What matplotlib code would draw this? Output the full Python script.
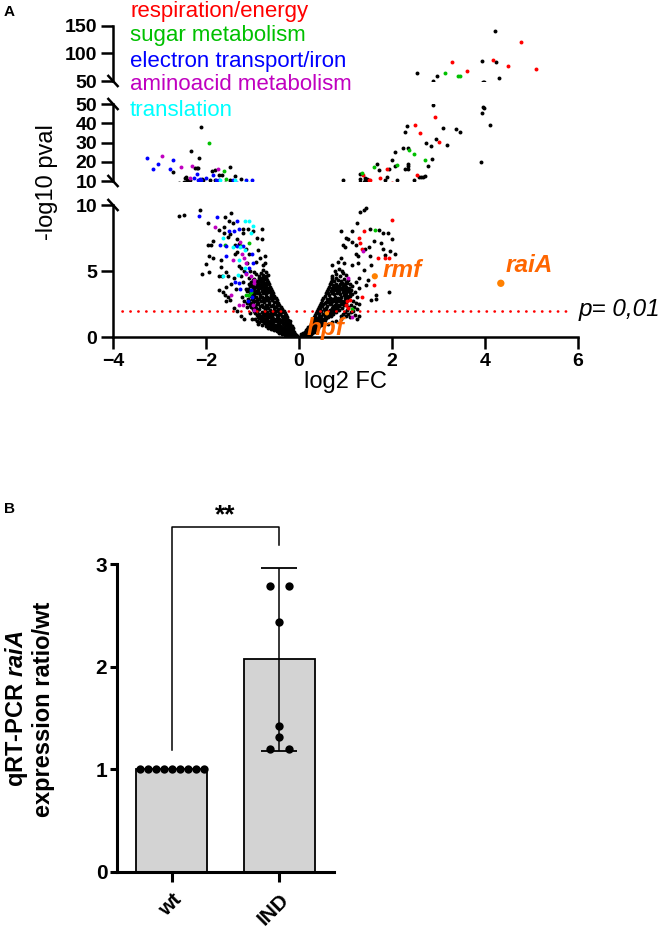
import matplotlib
matplotlib.use("Agg")
import matplotlib.pyplot as plt
from matplotlib.lines import Line2D
import numpy as np

plt.rcParams['font.family'] = ['Liberation Sans', 'DejaVu Sans']
plt.rcParams['mathtext.fontset'] = 'custom'
plt.rcParams['mathtext.it'] = 'Liberation Sans:italic:bold'
plt.rcParams['mathtext.rm'] = 'Liberation Sans:bold'

# ---------------- panel A : volcano (log2 FC, -log10 pval) ----------------
categories = ["respiration/energy", "sugar metabolism", "electron transport/iron",
              "aminoacid metabolism", "translation"]
cat_colors = ["#FF0000", "#00C000", "#0000FF", "#C000C0", "#00FFFF"]

# black = not annotated
black_pts = [
    # left dense lobe
    (-0.02, 0.02), (-0.05, 0.05), (-0.08, 0.08), (-0.11, 0.06), (-0.14, 0.12), (-0.17, 0.09),
    (-0.20, 0.15), (-0.23, 0.19), (-0.26, 0.14), (-0.29, 0.22), (-0.31, 0.27), (-0.34, 0.30),
    (-0.06, 0.14), (-0.12, 0.20), (-0.18, 0.25), (-0.09, 0.22), (-0.15, 0.31), (-0.24, 0.30),
    (-0.04, 0.10), (-0.10, 0.15), (-0.16, 0.20), (-0.22, 0.28), (-0.27, 0.35), (-0.20, 0.38),
    (-0.32, 0.42), (-0.26, 0.46), (-0.30, 0.15), (-0.24, 0.08), (-0.18, 0.04), (-0.36, 0.25),
    (-0.38, 0.36), (-0.42, 0.41), (-0.45, 0.47), (-0.48, 0.52), (-0.52, 0.58), (-0.55, 0.63),
    (-0.58, 0.70), (-0.61, 0.75), (-0.10, 0.35), (-0.13, 0.42), (-0.16, 0.48), (-0.19, 0.55),
    (-0.22, 0.44), (-0.25, 0.50), (-0.28, 0.38), (-0.31, 0.58), (-0.34, 0.47), (-0.37, 0.62),
    (-0.40, 0.55), (-0.43, 0.70), (-0.46, 0.64), (-0.49, 0.77), (-0.26, 0.71), (-0.21, 0.66),
    (-0.33, 0.78), (-0.14, 0.60), (-0.18, 0.76), (-0.12, 0.70), (-0.52, 0.72), (-0.39, 0.74),
    (-0.42, 0.32), (-0.48, 0.42), (-0.54, 0.50), (-0.60, 0.58), (-0.66, 0.68), (-0.72, 0.80),
    (-0.30, 0.50), (-0.36, 0.68), (-0.42, 0.60), (-0.50, 0.66), (-0.56, 0.82), (-0.60, 0.92),
    (-0.48, 0.86), (-0.44, 1.02), (-0.36, 1.20), (-0.30, 1.45), (-0.66, 1.02), (-0.70, 1.15),
    (-0.80, 1.40), (-0.60, 1.20), (-0.42, 1.28), (-0.56, 1.32), (-0.68, 1.45), (-0.27, 1.00),
    (-0.24, 0.80), (-0.20, 1.20), (-0.80, 0.90), (-0.88, 0.95), (-0.85, 1.10), (-0.90, 1.25),
    (-0.95, 1.40),
    (-0.64, 0.82), (-0.67, 0.90), (-0.70, 0.97), (-0.73, 1.05), (-0.76, 1.12), (-0.79, 1.20),
    (-0.82, 1.30), (-0.85, 1.42), (-0.16, 0.86), (-0.19, 0.95), (-0.22, 1.04), (-0.25, 1.13),
    (-0.28, 1.22), (-0.31, 1.32), (-0.34, 1.42), (-0.28, 0.88), (-0.35, 0.95), (-0.41, 0.86),
    (-0.46, 0.98), (-0.52, 0.90), (-0.57, 0.99), (-0.62, 1.08), (-0.39, 1.10), (-0.45, 1.18),
    (-0.50, 1.25), (-0.55, 1.14), (-0.60, 1.30), (-0.66, 1.22), (-0.71, 1.38), (-0.77, 1.45),
    (-0.43, 1.38), (-0.48, 1.46), (-0.38, 1.28), (-0.53, 1.40), (-0.64, 1.48), (-0.58, 1.52),
    (-0.23, 1.30), (-0.32, 1.08), (-0.74, 1.28),
    (-0.88, 1.55), (-0.91, 1.68), (-0.94, 1.80), (-0.97, 1.95), (-1.00, 2.10), (-1.03, 2.28),
    (-0.26, 1.55), (-0.28, 1.68), (-0.31, 1.82), (-0.33, 1.97), (-0.36, 2.12), (-0.39, 2.28),
    (-0.42, 2.45), (-0.82, 1.62), (-0.76, 1.70), (-0.70, 1.60), (-0.64, 1.72), (-0.58, 1.64),
    (-0.52, 1.76), (-0.46, 1.62), (-0.40, 1.74), (-0.36, 1.60), (-0.44, 1.90), (-0.50, 2.00),
    (-0.56, 1.88), (-0.62, 2.02), (-0.68, 1.92), (-0.74, 2.05), (-0.80, 1.90), (-0.86, 2.10),
    (-0.92, 2.20), (-0.84, 2.35), (-0.78, 2.25), (-0.72, 2.40), (-0.66, 2.22), (-0.60, 2.35),
    (-0.54, 2.25), (-0.48, 2.40), (-0.46, 2.15), (-0.98, 2.42), (-0.90, 2.48), (-0.64, 2.50),
    (-0.57, 1.54), (-0.69, 1.80), (-0.36, 1.88),
    (-0.30, 1.62), (-0.38, 1.98), (-0.42, 2.05), (-0.54, 2.08), (-0.60, 1.80), (-0.66, 1.60),
    (-0.72, 1.72), (-0.78, 1.80), (-0.86, 1.78), (-0.90, 1.95), (-0.96, 2.10), (-0.74, 2.18),
    (-0.80, 2.42), (-0.68, 2.32), (-0.56, 2.45), (-0.50, 2.25), (-0.94, 2.32), (-1.06, 2.45),
    (-0.48, 1.70), (-0.62, 1.58),
    (-1.05, 2.55), (-1.08, 2.70), (-1.10, 2.88), (-0.45, 2.60), (-0.48, 2.78), (-0.50, 2.95),
    (-0.53, 3.12), (-0.56, 3.30), (-0.58, 3.48), (-1.00, 2.65), (-0.94, 2.75), (-0.88, 2.60),
    (-0.82, 2.72), (-0.76, 2.62), (-0.70, 2.78), (-0.64, 2.66), (-0.58, 2.80), (-0.54, 2.62),
    (-0.62, 2.95), (-0.68, 3.05), (-0.74, 2.92), (-0.80, 3.02), (-0.86, 2.90), (-0.92, 3.05),
    (-0.98, 2.95), (-1.04, 3.10), (-0.96, 3.22), (-0.90, 3.35), (-0.84, 3.20), (-0.78, 3.32),
    (-0.72, 3.22), (-0.66, 3.38), (-0.60, 3.20), (-1.06, 3.40), (-1.00, 3.48), (-0.88, 3.50),
    (-0.76, 3.45), (-0.64, 3.55),
    (-0.50, 2.68), (-0.56, 2.92), (-0.60, 3.08), (-0.66, 2.82), (-0.72, 3.00), (-0.78, 2.80),
    (-0.84, 3.05), (-0.90, 2.82), (-0.96, 3.02), (-1.02, 2.85), (-1.08, 3.20), (-0.98, 3.35),
    (-0.92, 3.45), (-0.86, 3.35), (-0.80, 3.48), (-0.74, 3.35), (-0.70, 3.52), (-0.62, 3.40),
    (-1.12, 3.50), (-1.12, 2.60),
    (-0.60, 3.62), (-0.62, 3.80), (-0.64, 3.98), (-0.66, 4.15), (-0.68, 4.30), (-0.70, 4.45),
    (-0.70, 3.70), (-0.76, 3.62), (-0.82, 3.75), (-0.88, 3.66), (-0.94, 3.80), (-1.00, 3.70),
    (-1.06, 3.85), (-0.74, 3.90), (-0.80, 4.02), (-0.86, 3.95), (-0.92, 4.10), (-0.98, 4.00),
    (-1.04, 4.20), (-0.72, 4.12), (-0.78, 4.25), (-0.84, 4.35), (-0.90, 4.28), (-0.96, 4.42),
    (-0.66, 3.70), (-0.72, 3.82), (-0.78, 3.85), (-0.84, 3.85), (-0.90, 3.90), (-0.96, 3.72),
    (-1.02, 3.95), (-1.08, 4.05), (-0.76, 4.10), (-0.82, 4.15), (-0.88, 4.12), (-0.94, 4.25),
    (-1.00, 4.32), (-0.68, 4.00), (-0.74, 4.40), (-0.80, 4.45), (-0.86, 4.50), (-1.10, 3.65),
    (-0.76, 4.50), (-0.72, 4.60), (-0.78, 4.70), (-0.82, 4.85), (-0.70, 4.95), (-0.86, 4.62),
    (-0.92, 4.78), (-0.97, 4.95), (-0.66, 4.72),
    # left, sparse
    (-1.12, 2.30), (-1.18, 2.75), (-1.22, 3.05), (-1.14, 3.60), (-1.20, 4.20), (-1.08, 4.45),
    (-1.25, 4.60), (-1.18, 5.00), (-1.30, 5.40), (-1.05, 5.00), (-1.12, 5.60),
    (-2.59, 9.17), (-2.47, 9.27), (-2.13, 9.65), (-1.46, 9.40), (-1.60, 9.07), (-1.95, 8.60),
    (-1.73, 8.10), (-1.61, 8.30), (-1.62, 7.90), (-1.43, 8.60), (-1.51, 8.80), (-1.21, 8.20),
    (-1.09, 8.20), (-0.98, 8.00), (-0.80, 8.20), (-1.53, 7.60), (-1.48, 7.80), (-1.20, 7.90),
    (-0.90, 7.50), (-0.80, 7.40), (-1.89, 7.00), (-1.95, 7.00), (-1.86, 7.30), (-1.38, 7.00),
    (-1.30, 7.05), (-1.34, 7.40), (-1.13, 6.70), (-1.07, 6.30), (-1.37, 6.30), (-1.33, 6.45),
    (-0.89, 6.60), (-0.84, 6.00), (-0.74, 6.10), (-1.94, 6.10), (-1.86, 6.00), (-1.99, 5.50),
    (-1.67, 5.80), (-1.67, 5.30), (-0.92, 5.70), (-0.78, 5.45), (-0.73, 5.60), (-0.78, 5.05),
    (-2.09, 4.75), (-1.93, 4.90), (-1.73, 4.60), (-1.66, 4.60), (-1.53, 4.60), (-1.57, 4.95),
    (-1.46, 4.00), (-1.56, 3.80), (-1.71, 3.55), (-1.64, 3.40), (-1.60, 3.20), (-1.53, 3.05),
    (-1.48, 2.80), (-1.58, 2.70), (-1.39, 2.20), (-1.34, 1.97), (-1.24, 1.60), (-1.18, 1.36),
    (-1.05, 1.85), (-1.01, 1.40), (-1.35, 3.60), (-1.40, 4.50), (-1.25, 5.20),
    # right dense lobe
    (0.02, 0.03), (0.05, 0.07), (0.08, 0.05), (0.11, 0.12), (0.14, 0.09), (0.17, 0.16),
    (0.20, 0.21), (0.23, 0.17), (0.26, 0.26), (0.29, 0.32), (0.32, 0.38), (0.06, 0.15),
    (0.10, 0.22), (0.15, 0.28), (0.21, 0.35), (0.25, 0.42), (0.12, 0.35), (0.18, 0.43),
    (0.30, 0.48), (0.08, 0.30), (0.04, 0.20), (0.16, 0.38), (0.22, 0.50),
    (0.14, 0.52), (0.18, 0.60), (0.20, 0.72), (0.23, 0.83), (0.26, 0.95), (0.28, 1.08),
    (0.30, 1.20), (0.32, 1.35), (0.35, 0.55), (0.38, 0.62), (0.41, 0.70), (0.44, 0.80),
    (0.47, 0.90), (0.50, 1.02), (0.53, 1.15), (0.56, 1.28), (0.59, 1.42), (0.24, 0.58),
    (0.29, 0.68), (0.33, 0.78), (0.36, 0.90), (0.39, 1.00), (0.42, 1.12), (0.45, 1.24),
    (0.48, 1.36), (0.34, 1.10), (0.37, 1.25), (0.40, 1.40), (0.44, 1.48), (0.30, 0.90),
    (0.27, 0.78), (0.51, 1.30), (0.55, 1.45),
    (0.26, 0.62), (0.30, 0.58), (0.34, 0.66), (0.38, 0.78), (0.40, 0.88), (0.33, 0.95),
    (0.37, 1.05), (0.43, 0.95), (0.46, 1.06), (0.50, 1.16), (0.41, 1.30), (0.47, 1.25),
    (0.53, 1.38), (0.36, 1.42), (0.62, 0.95), (0.70, 1.10), (0.80, 1.25), (0.90, 1.35),
    (0.33, 1.55), (0.35, 1.70), (0.37, 1.85), (0.39, 2.00), (0.41, 2.15), (0.43, 2.30),
    (0.45, 2.45), (0.62, 1.55), (0.66, 1.65), (0.70, 1.78), (0.74, 1.90), (0.78, 2.05),
    (0.82, 2.20), (0.86, 2.35), (0.90, 2.48), (0.47, 1.60), (0.52, 1.72), (0.57, 1.84),
    (0.60, 1.96), (0.66, 2.08), (0.70, 2.20), (0.74, 2.32), (0.78, 2.45), (0.48, 1.98),
    (0.53, 2.10), (0.57, 2.22), (0.61, 2.36), (0.66, 2.48), (0.50, 2.38), (0.44, 1.82),
    (0.55, 1.56), (0.42, 1.62),
    (0.58, 1.52), (0.60, 1.70), (0.64, 1.85), (0.56, 1.98), (0.68, 1.95), (0.72, 2.05),
    (0.76, 2.18), (0.80, 2.30), (0.84, 2.45), (0.46, 2.20), (0.52, 2.50), (0.96, 2.40),
    (0.92, 2.20), (0.86, 2.05), (0.80, 1.90), (0.74, 1.72), (0.68, 1.60), (1.04, 2.05),
    (0.98, 1.90), (0.94, 1.75), (0.90, 1.62), (1.00, 1.60), (1.10, 1.55), (1.06, 1.75),
    (1.16, 2.00), (1.06, 2.30), (1.00, 2.50), (1.12, 2.45), (1.16, 2.70),
    (0.47, 2.60), (0.50, 2.78), (0.52, 2.95), (0.55, 3.12), (0.57, 3.30), (0.60, 3.48),
    (0.94, 2.60), (0.98, 2.72), (1.02, 2.85), (1.06, 2.98), (1.10, 3.10), (1.14, 3.25),
    (0.56, 2.56), (0.62, 2.66), (0.68, 2.58), (0.74, 2.70), (0.80, 2.62), (0.86, 2.75),
    (0.60, 2.86), (0.66, 2.98), (0.72, 2.88), (0.78, 3.00), (0.84, 2.92), (0.90, 3.05),
    (0.96, 3.18), (0.64, 3.18), (0.70, 3.30), (0.76, 3.22), (0.82, 3.36), (0.88, 3.28),
    (0.94, 3.42), (1.00, 3.35), (1.06, 3.45), (0.68, 3.48),
    (0.58, 2.62), (0.64, 2.80), (0.70, 2.70), (0.76, 2.85), (0.82, 2.78), (0.88, 2.90),
    (0.92, 2.70), (0.98, 2.95), (1.04, 3.10), (1.10, 3.30), (0.62, 3.30), (0.74, 3.50),
    (0.62, 3.62), (0.64, 3.80), (0.66, 3.98), (0.68, 4.15), (0.70, 4.32), (0.72, 3.60),
    (0.78, 3.70), (0.84, 3.62), (0.90, 3.75), (0.96, 3.66), (1.02, 3.78), (1.08, 3.70),
    (0.74, 3.92), (0.80, 4.05), (0.86, 3.90), (0.92, 4.08), (0.98, 3.98), (1.04, 4.12),
    (0.76, 4.25), (0.84, 4.35), (0.90, 4.22), (0.96, 4.40), (1.10, 4.00),
    (0.80, 3.55), (0.86, 3.48), (0.92, 3.60), (0.98, 3.55), (1.04, 3.60), (1.12, 3.55),
    (0.70, 3.75), (0.76, 3.80), (0.82, 3.85), (0.88, 4.00), (0.94, 3.85), (1.00, 4.20),
    (0.80, 4.50), (0.70, 4.50), (1.06, 4.35),
    (0.72, 4.60), (0.80, 4.75), (0.88, 4.62), (0.95, 4.85), (1.02, 4.70), (0.78, 5.00),
    (0.86, 5.15), (0.92, 4.98),
    # right, sparse
    (1.18, 2.30), (1.22, 2.60), (1.25, 3.00), (1.20, 3.40), (1.28, 3.70), (1.15, 3.90),
    (1.22, 4.20), (1.30, 4.50), (1.12, 1.90), (1.20, 1.70), (1.25, 2.10), (1.30, 2.50),
    (1.28, 1.60), (1.24, 1.35),
    (1.32, 9.50), (1.39, 9.60), (1.44, 9.75), (1.24, 8.60), (0.90, 8.00), (1.13, 8.00),
    (1.53, 8.20), (1.73, 8.10), (1.81, 7.90), (1.91, 7.85), (1.01, 7.50), (1.06, 7.40),
    (0.95, 7.00), (0.99, 6.80), (1.15, 7.20), (1.23, 7.00), (1.61, 7.30), (1.77, 7.10),
    (2.00, 7.40), (1.50, 6.80), (1.41, 6.70), (1.22, 6.30), (1.26, 6.10), (1.52, 6.10),
    (1.80, 6.70), (1.86, 6.20), (1.96, 6.50), (2.06, 6.30), (1.15, 5.45), (1.26, 5.60),
    (1.40, 5.10), (1.55, 5.45), (1.49, 4.30), (1.44, 3.95), (1.66, 3.20), (1.94, 3.40),
    (1.55, 2.80), (1.66, 2.85), (0.72, 5.45), (0.83, 5.70), (0.90, 5.96), (0.97, 5.58),
    # middle segment
    (-2.11, 38.0), (-2.33, 25.7), (-2.15, 22.0), (-2.72, 14.5), (-2.23, 16.9), (-2.20, 16.9),
    (-2.17, 16.9), (-1.88, 15.2), (-1.80, 15.8), (-1.48, 17.2), (-1.71, 13.0), (-1.66, 13.2),
    (-1.38, 12.7), (-1.25, 10.9), (-1.48, 10.3), (-2.43, 12.0), (-2.40, 10.3), (-2.37, 10.3),
    (-2.35, 10.5), (-2.09, 11.0), (-2.06, 10.6), (-1.91, 10.3), (-1.80, 10.3), (-2.45, 11.3),
    (2.88, 49.5), (3.96, 48.7), (3.97, 47.8), (3.93, 45.5), (4.10, 39.3), (3.92, 19.7),
    (2.32, 38.8), (2.29, 35.2), (3.10, 37.7), (3.38, 37.0), (3.46, 35.7), (2.94, 31.8),
    (2.73, 29.6), (2.83, 28.4), (3.18, 28.9), (2.07, 25.0), (2.24, 27.0), (2.34, 27.0),
    (2.01, 21.0), (2.85, 21.5), (1.68, 19.0), (1.71, 15.8), (2.06, 17.9), (2.34, 19.0),
    (2.35, 18.0), (2.28, 16.3), (2.34, 16.3), (2.77, 17.9), (1.94, 16.3), (1.89, 12.3),
    (1.84, 10.3), (2.10, 10.3), (2.57, 12.2), (2.62, 12.2), (2.67, 12.2), (2.72, 12.5),
    (2.47, 10.3), (0.95, 10.3), (1.32, 13.4), (1.31, 11.0), (1.41, 11.3), (1.42, 10.4),
    (1.47, 10.9), (1.49, 10.3),
    # top segment
    (4.22, 141.0), (3.93, 86.0), (4.24, 84.0), (4.30, 55.0), (2.53, 64.5), (2.96, 59.0),
]

resp_pts = [
    (2.00, 8.90), (1.39, 8.00), (1.30, 7.50), (1.31, 7.10), (1.35, 6.70), (1.70, 6.00),
    (1.84, 6.00), (1.94, 6.00), (1.62, 3.95), (1.35, 3.05), (1.03, 2.70), (1.09, 2.80),
    (1.01, 2.40), (1.05, 2.20),
    (2.93, 43.0), (2.49, 39.3), (2.60, 35.0), (3.00, 30.4), (1.90, 16.1), (1.74, 11.6),
    (2.53, 13.0), (1.37, 12.9), (1.50, 10.4), (1.52, 10.6),
    (3.30, 84.5), (3.61, 68.0), (4.18, 88.0), (4.50, 77.0), (4.77, 121.0), (5.10, 71.0),
]
sugar_pts = [
    (1.64, 8.10), (1.15, 2.10), (-1.60, 7.00), (-1.08, 7.10), (-1.24, 6.90), (-1.04, 3.40),
    (-1.14, 3.20), (-1.07, 3.20),
    (-1.94, 30.0), (-1.61, 15.2), (-1.57, 10.9),
    (2.37, 26.0), (2.47, 23.9), (2.71, 21.0), (1.61, 17.2), (2.11, 18.5), (1.35, 14.0),
    (3.15, 65.0), (3.43, 60.0), (3.47, 60.0),
]
etr_pts = [
    (-2.14, 9.20), (-1.77, 9.10), (-1.51, 8.00), (-1.33, 8.80), (-1.39, 8.05), (-1.30, 8.20),
    (-1.33, 6.90), (-1.20, 6.90), (-1.58, 6.10), (-1.01, 6.30), (-0.98, 5.60), (-1.07, 5.25),
    (-1.14, 4.85), (-1.38, 4.20), (-1.28, 4.10), (-1.27, 3.60), (-1.03, 3.55), (-1.01, 3.00),
    (-1.10, 2.70), (-1.69, 7.00), (-1.58, 6.90),
    (-3.26, 21.9), (-3.04, 19.0), (-2.71, 21.0), (-3.15, 16.0), (-2.78, 16.0), (-2.20, 13.4),
    (-2.25, 11.3), (-2.00, 11.6), (-2.13, 11.1), (-2.18, 10.3), (-2.10, 10.4), (-1.86, 13.0),
    (-1.41, 10.4), (-1.15, 10.3), (-1.02, 10.5), (-1.78, 10.3), (-1.73, 10.5),
]
amino_pts = [
    (-1.81, 8.30), (-1.27, 7.20), (-1.23, 6.30), (-1.43, 5.80), (-1.18, 6.00), (-1.15, 5.60),
    (-1.15, 4.75), (-1.03, 4.65), (-0.97, 4.30), (-0.96, 4.10), (-1.46, 3.20), (-1.28, 2.40),
    (-1.20, 2.40), (-0.97, 2.05), (-0.98, 2.40), (1.38, 6.50), (1.05, 4.50), (1.13, 1.50),
    (-2.95, 23.0), (-2.53, 17.2), (-2.30, 17.6), (-1.74, 16.1), (-2.35, 11.3),
]
transl_pts = [
    (-1.17, 8.80), (-1.07, 8.80), (-0.98, 8.40), (-1.64, 7.50), (-1.04, 7.90), (-1.41, 6.80),
    (-1.27, 6.85), (-1.17, 6.60), (-1.30, 5.80), (-1.16, 5.20), (-1.63, 4.65), (-1.31, 4.70),
    (-1.37, 10.3), (-1.70, 10.3),
]
cat_pts = [resp_pts, sugar_pts, etr_pts, amino_pts, transl_pts]

gene_names = ["hpf", "rmf", "raiA"]
gene_fc = [0.60, 1.63, 4.34]
gene_p = [1.80, 4.60, 4.07]

p_cut = 2.0  # -log10(0.01)

# ---------------- panel B : qRT-PCR ----------------
strains = ["wt", "IND"]
bar_mean = [1.0, 2.07]
bar_sd = [0.0, 0.89]
wt_ratio = [1.0, 1.0, 1.0, 1.0, 1.0, 1.0, 1.0, 1.0, 1.0]
ind_ratio = [2.79, 2.79, 2.43, 1.42, 1.31, 1.20, 1.20]

# ---------------- figure ----------------
W, H = 664, 931
fig = plt.figure(figsize=(W / 100, H / 100), dpi=100)


def px_axes(l, t, r, b):
    return fig.add_axes([l / W, 1 - b / H, (r - l) / W, (b - t) / H])


def fig_line(xs, ys, **kw):
    fig.add_artist(Line2D([x / W for x in xs], [1 - y / H for y in ys],
                          transform=fig.transFigure, **kw))


ax_top = px_axes(113, 26, 578, 81)
ax_mid = px_axes(113, 104, 578, 181)
ax_bot = px_axes(113, 205, 578, 337)
spine_lw = 1.8
dot_s = 8

for ax, lim, ticks in [(ax_top, (50, 150), [50, 100, 150]),
                       (ax_mid, (10, 50), [10, 20, 30, 40, 50]),
                       (ax_bot, (0, 10), [0, 5, 10])]:
    bx, by = np.array(black_pts).T
    ax.scatter(bx, by, s=dot_s, color="black", linewidths=0, zorder=2)
    for pts, c in zip(cat_pts, cat_colors):
        x, y = np.array(pts).T
        ax.scatter(x, y, s=dot_s, color=c, linewidths=0, zorder=3)
    ax.set_xlim(-4, 6)
    ax.set_ylim(*lim)
    ax.set_yticks(ticks)
    ax.patch.set_alpha(0)
    for s in ["top", "right"]:
        ax.spines[s].set_visible(False)
    ax.spines["left"].set_linewidth(spine_lw)
    ax.spines["bottom"].set_linewidth(spine_lw)
    ax.tick_params(length=8.5, width=spine_lw, labelsize=14, pad=3)
    for lbl in ax.get_yticklabels() + ax.get_xticklabels():
        lbl.set_fontweight("bold")
    if ax is not ax_bot:
        ax.spines["bottom"].set_visible(False)
        ax.set_xticks([])

ax_bot.set_xticks([-4, -2, 0, 2, 4, 6])
for lbl in ax_bot.get_xticklabels():
    lbl.set_fontweight("bold")

# axis breaks
for py in [81, 104, 181, 205]:
    fig_line([107.5, 118.5], [py - 6, py + 6], color="black", lw=spine_lw,
             solid_capstyle="butt")

# significance line
ax_bot.plot([-3.8, 5.85], [p_cut, p_cut], color="#FF0000", lw=1.9,
            ls=(0, (0.1, 2.9)), dash_capstyle="round", zorder=4)
ax_bot.text(6.02, p_cut + 0.1, "p= 0,01", style="italic", fontsize=17.5,
            va="center", ha="left", clip_on=False)

# highlighted genes
ax_bot.scatter(gene_fc, gene_p, s=[10, 20, 28], color="#FF8000", linewidths=0, zorder=5)
ax_bot.text(0.17, 0.62, gene_names[0], color="#FF6600", fontsize=17.5, fontweight="bold",
            style="italic", va="center", zorder=6)
ax_bot.text(1.79, 5.05, gene_names[1], color="#FF6600", fontsize=17.5, fontweight="bold",
            style="italic", va="center", zorder=6)
ax_bot.text(4.44, 5.45, gene_names[2], color="#FF6600", fontsize=17.5, fontweight="bold",
            style="italic", va="center", zorder=6)

# category legend
for i, (name, c) in enumerate(zip(categories, cat_colors)):
    fig.text(130 / W, 1 - [11, 35, 62, 84, 110][i] / H, name, color=c, fontsize=16,
             va="center", ha="left")

fig.text(345 / W, 1 - 382 / H, "log2 FC", fontsize=17, ha="center", va="center")
fig.text(47 / W, 1 - 182 / H, "-log10 pval", fontsize=17, rotation=90,
         ha="center", va="center")
fig.text(4 / W, 1 - 12 / H, "A", fontsize=11, fontweight="bold", va="center")
fig.text(4 / W, 1 - 509 / H, "B", fontsize=11, fontweight="bold", va="center")

# ---------------- panel B drawing ----------------
axb = px_axes(117, 564, 334, 871.7)
xpos = np.arange(len(strains))
axb.bar(xpos, bar_mean, width=0.657, color="#D3D3D3", edgecolor="black",
        linewidth=1.3, zorder=1)
axb.errorbar(xpos[1], bar_mean[1], yerr=bar_sd[1], color="black", lw=1.1,
             capsize=13, capthick=1.3, zorder=2)

dot_dx = 0.0745
wt_off = (np.arange(len(wt_ratio)) - (len(wt_ratio) - 1) / 2) * dot_dx
ind_off = np.array([-1.17, 1.17, 0, 0, 0, -1.17, 1.17]) * dot_dx
axb.scatter(xpos[0] + wt_off, wt_ratio, s=36, color="black", linewidths=0, zorder=3)
axb.scatter(xpos[1] + ind_off, ind_ratio, s=36, color="black", linewidths=0, zorder=3)

# significance bracket
axb.plot([0, 0, 1, 1], [1.19, 3.363, 3.363, 3.184], color="black", lw=1.1,
         clip_on=False)
axb.text(0.5, 3.47, "**", fontsize=19, fontweight="bold", ha="center", va="center")

axb.set_xlim(-0.51, 1.51)
axb.set_ylim(0, 3)
axb.set_yticks([0, 1, 2, 3])
axb.set_xticks(xpos)
axb.set_xticklabels(strains, rotation=45, ha="right", va="top", rotation_mode="anchor",
                    fontweight="bold", fontsize=15)
for lbl in axb.get_yticklabels():
    lbl.set_fontweight("bold")
    lbl.set_fontsize(15)
for s in ["top", "right"]:
    axb.spines[s].set_visible(False)
axb.spines["left"].set_linewidth(2.2)
axb.spines["bottom"].set_linewidth(2.2)
axb.tick_params(axis="y", length=5, width=2.2, pad=2)
axb.tick_params(axis="x", length=7, width=2.2, pad=6)

fig.text(29 / W, 1 - 709 / H, "qRT-PCR $\\mathit{raiA}$\nexpression ratio/wt",
         fontsize=17, fontweight="bold", rotation=90, ha="center", va="center",
         multialignment="center", linespacing=1.1)

fig.savefig("out.png", dpi=100, facecolor="white")
